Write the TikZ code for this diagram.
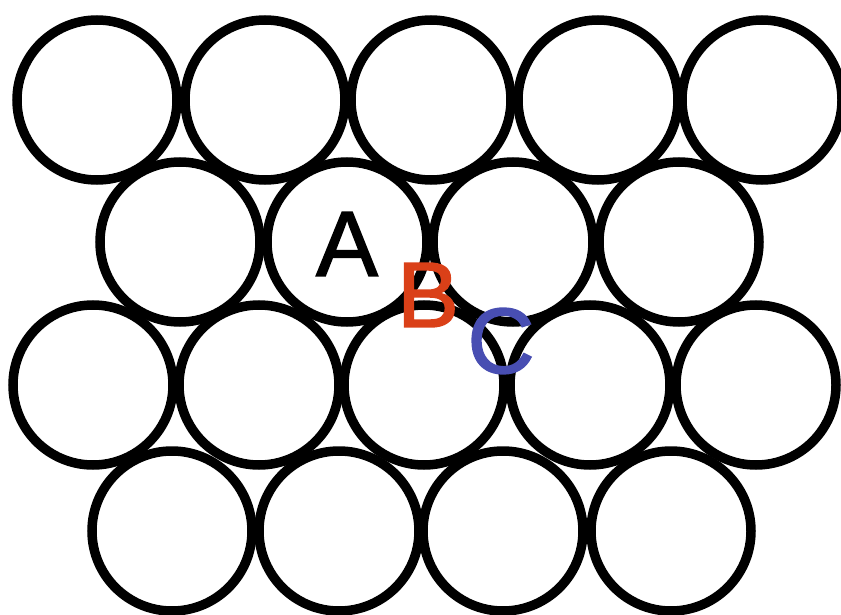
\documentclass[tikz,border=0pt]{standalone}
\usepackage{fontspec}
\setmainfont{Liberation Sans}
\newfontfamily\labelfont[FakeBold=1.6]{Liberation Sans}
\usepackage{tikz}
\usetikzlibrary{positioning}

\definecolor{bred}{RGB}{218,64,24}
\definecolor{cblue}{RGB}{72,78,178}

\begin{document}
\begin{tikzpicture}[x=1pt, y=-1pt,
  ball/.style={circle, draw, line width=9.5pt, inner sep=0pt, minimum size=160pt},
  site/.style={font=\labelfont\fontsize{93}{93}\selectfont, inner sep=0pt}]
  \useasboundingbox (0,0) rectangle (841,615);

  % Layer of spheres, row by row
  \foreach \x [count=\i] in {97,265,431,598,762}
    \node[ball] (a\i) at (\x,100) {};
  \foreach \x [count=\i] in {180,347,513,679}
    \node[ball] (b\i) at (\x,242) {};
  \foreach \x [count=\i] in {93,259,424,590,756}
    \node[ball] (c\i) at (\x,385) {};
  \foreach \x [count=\i] in {172,339,503,671}
    \node[ball] (d\i) at (\x,531) {};

  % Sites
  \node[site] (A) at (347,244) {A};
  \node[site, text=bred] (B) at (428,295) {B};
  \node[site, text=cblue] (C) at (501,341) {C};
\end{tikzpicture}
\end{document}
